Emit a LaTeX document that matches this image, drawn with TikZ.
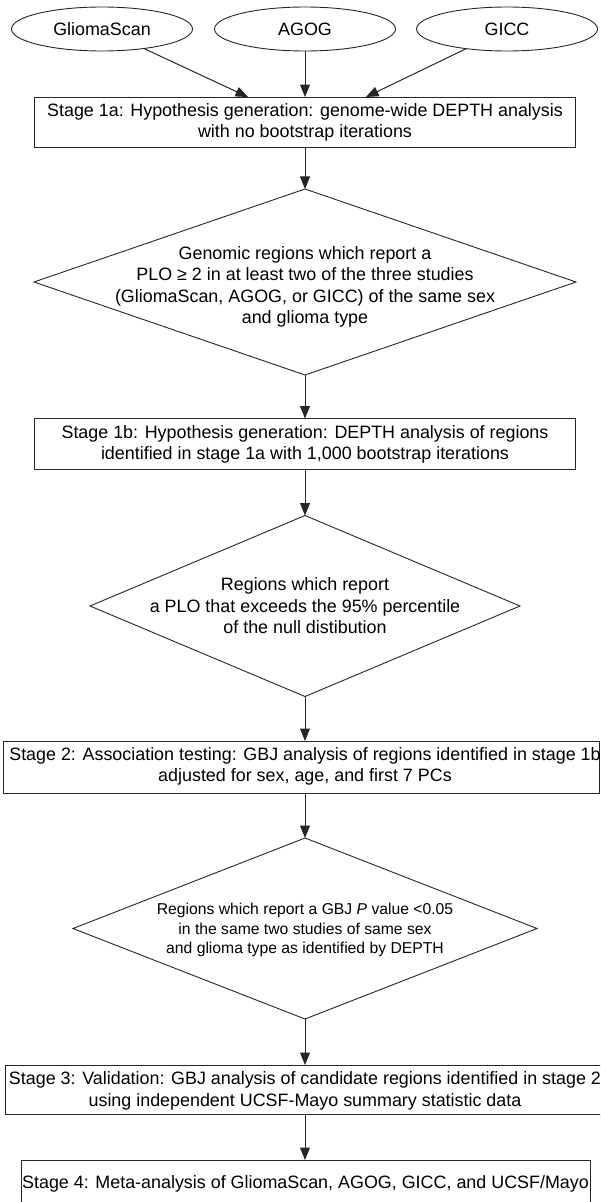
\documentclass[tikz,border=0pt]{standalone}
\usepackage{fontspec}
\setmainfont{Liberation Sans}
\usetikzlibrary{shapes.geometric,arrows.meta,calc}
\begin{document}
\begin{tikzpicture}[x=1pt,y=-1pt,
  every node/.style={inner sep=0pt,outer sep=0pt},
  src/.style={ellipse,draw=black!85,line width=0.9pt,minimum width=181pt,minimum height=44pt,font=\fontsize{17.9}{21.5}\selectfont},
  stagebox/.style={rectangle,draw=black!85,line width=1pt},
  decision/.style={diamond,draw=black!85,line width=0.9pt},
  txt/.style={align=center,font=\fontsize{17.9}{21.5}\selectfont},
  smalltxt/.style={align=center,font=\fontsize{15.7}{19.5}\selectfont},
  flow/.style={line width=1pt,draw=black!85,-{Triangle[length=12.5pt,width=10pt]}}]

\useasboundingbox (0,0) rectangle (600,1202);
\clip (0,0) rectangle (600,1202);

% sources
\node[src] (gs) at (102,29) {GliomaScan};
\node[src] (agog) at (305,29) {AGOG};
\node[src] (gicc) at (507,29) {GICC};

% stage 1a
\node[stagebox,minimum width=541pt,minimum height=50pt] (s1a) at (305,122) {};
\node[txt] (t1a) at (305,122.5) {Stage 1a: Hypothesis generation: genome-wide DEPTH analysis\\with no bootstrap iterations};

% decision 1
\node[decision,minimum width=542pt,minimum height=186pt] (d1) at (305,282) {};
\node[txt] (td1) at (305,287) {Genomic regions which report a\\PLO ≥ 2 in at least two of the three studies\\(GliomaScan, AGOG, or GICC) of the same sex\\and glioma type};

% stage 1b
\node[stagebox,minimum width=541pt,minimum height=51pt] (s1b) at (305,444) {};
\node[txt] (t1b) at (305,444.5) {Stage 1b: Hypothesis generation: DEPTH analysis of regions\\identified in stage 1a with 1,000 bootstrap iterations};

% decision 2
\node[decision,minimum width=430pt,minimum height=181pt] (d2) at (305,606) {};
\node[txt] (td2) at (305,606) {Regions which report\\a PLO that exceeds the 95\% percentile\\of the null distibution};

% stage 2
\node[stagebox,minimum width=596pt,minimum height=52pt] (s2) at (301,767) {};
\node[txt] (t2) at (305,766.5) {Stage 2: Association testing: GBJ analysis of regions identified in stage 1b\\adjusted for sex, age, and first 7 PCs};

% decision 3
\node[decision,minimum width=464pt,minimum height=181pt] (d3) at (305,928.5) {};
\node[smalltxt] (td3) at (305,930) {Regions which report a GBJ \textit{P} value <0.05\\in the same two studies of same sex\\and glioma type as identified by DEPTH};

% stage 3
\node[stagebox,minimum width=596pt,minimum height=49pt] (s3) at (303,1089.5) {};
\node[txt] (t3) at (305,1091) {Stage 3: Validation: GBJ analysis of candidate regions identified in stage 2\\using independent UCSF-Mayo summary statistic data};

% stage 4
\node[stagebox,minimum width=569pt,minimum height=48pt] (s4) at (305.5,1184) {};
\node[txt] (t4) at (305.5,1184) {Stage 4: Meta-analysis of GliomaScan, AGOG, GICC, and UCSF/Mayo};

% connectors
\coordinate (a1) at (248,97);
\coordinate (a3) at (366,97);
\draw[flow] (gs) -- (a1);
\draw[flow] (agog) -- (agog |- s1a.north);
\draw[flow] (gicc) -- (a3);
\draw[flow] (s1a) -- (d1);
\draw[flow] (d1) -- (s1b);
\draw[flow] (s1b) -- (d2);
\draw[flow] (d2.south) -- (d2.south |- s2.north);
\draw[flow] (d2.south |- s2.south) -- (d3.north);
\draw[flow] (d3.south) -- (d3.south |- s3.north);
\draw[flow] (d3.south |- s3.south) -- (d3.south |- s4.north);
\end{tikzpicture}
\end{document}
